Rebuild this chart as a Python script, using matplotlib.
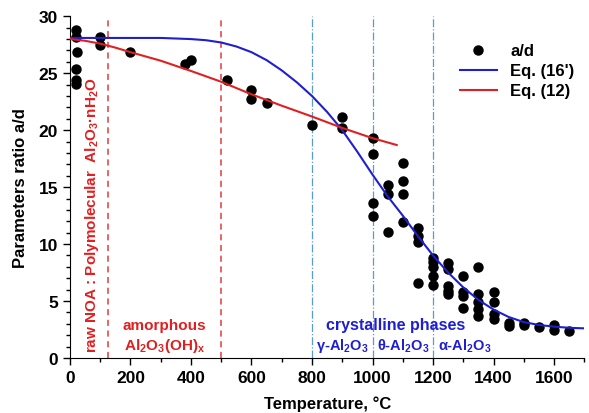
import numpy as np
import matplotlib
matplotlib.use("Agg")
import matplotlib.pyplot as plt

plt.rcParams['font.family'] = ['Liberation Sans', 'DejaVu Sans']
plt.rcParams['font.weight'] = 'bold'
plt.rcParams['mathtext.default'] = 'regular'

# experimental points a/d
temp_pts = [20, 20, 24, 19, 19, 20, 100, 100, 200, 380, 401, 520, 600, 600, 650,
            800, 900, 900, 1000, 1000, 1000, 1000, 1050, 1050, 1050, 1100,
            1100, 1100, 1100, 1150, 1150, 1150, 1150,
            1200, 1200, 1200, 1200, 1200, 1250, 1250, 1250, 1250, 1250,
            1300, 1300, 1300, 1300, 1350, 1350, 1350, 1350, 1350,
            1400, 1400, 1400, 1400, 1450, 1450, 1500, 1500, 1550, 1600, 1600, 1650]
ratio_pts = [28.8, 28.2, 26.9, 25.4, 24.4, 24.1, 28.2, 27.5, 26.9, 25.8, 26.2, 24.4, 23.5, 22.7, 22.4,
             20.5, 21.2, 20.2, 19.3, 17.9, 13.6, 12.5, 15.2, 14.4, 11.1, 17.1,
             15.5, 14.4, 11.9, 11.4, 10.7, 10.2, 6.6,
             8.8, 8.4, 8.0, 7.2, 6.4, 8.3, 7.8, 6.3, 5.9, 5.6,
             7.2, 5.8, 5.4, 4.4, 8.0, 5.6, 4.9, 4.3, 3.7,
             5.8, 4.9, 3.9, 3.4, 3.1, 2.8, 3.1, 2.9, 2.7, 2.9, 2.5, 2.4]

# Eq. (16') curve
temp_16 = [0, 200, 300, 350, 400, 450, 500, 550, 600, 650, 700, 750, 800, 850, 900, 950, 1000,
           1050, 1100, 1150, 1200, 1250, 1300, 1350, 1400, 1450, 1500, 1550, 1600, 1650, 1700]
ratio_16 = [28.1, 28.1, 28.1, 28.05, 28.0, 27.9, 27.7, 27.35, 26.85, 26.15, 25.25, 24.2, 23.0,
            21.6, 20.0, 18.1, 16.1, 14.2, 12.5, 10.7, 9.0, 7.5, 6.2, 5.1, 4.25, 3.6, 3.15,
            2.9, 2.75, 2.65, 2.6]

# Eq. (12) curve
temp_12 = [0, 50, 100, 150, 200, 300, 400, 500, 600, 700, 800, 900, 1000, 1080]
ratio_12 = [28.0, 27.85, 27.6, 27.25, 26.85, 26.1, 25.2, 24.25, 23.15, 22.15, 21.2, 20.2, 19.3, 18.7]

red_lines = [125, 500]
blue_lines = [800, 1000, 1200]
phases = ['γ-Al$_2$O$_3$', 'θ-Al$_2$O$_3$', 'α-Al$_2$O$_3$']
phase_x = [902, 1102, 1304]

fig = plt.figure(figsize=(5.89, 4.14), dpi=100)
ax = fig.add_axes([0.1188, 0.1329, 0.8732, 0.8253])

for t in red_lines:
    ax.axvline(t, color='#e03c3c', ls=(0, (4, 3)), lw=1.1)
for t in blue_lines:
    ax.axvline(t, color='#5b9bd5', ls='-.', lw=0.9)

ax.plot(temp_pts, ratio_pts, 'o', color='black', ms=6.5, label='a/d', zorder=3)
ax.plot(temp_16, ratio_16, '-', color='#1f1fd0', lw=1.5, label="Eq. (16')", zorder=4)
ax.plot(temp_12, ratio_12, '-', color='#e02020', lw=1.5, label='Eq. (12)', zorder=4)

ax.text(72, 0.5, 'raw NOA : Polymolecular  Al$_2$O$_3$·nH$_2$O', rotation=90, color='#e02020',
        fontsize=11, fontweight='bold', ha='center', va='bottom')
ax.text(312, 2.9, 'amorphous', color='#e02020', fontsize=11, fontweight='bold', ha='center', va='center')
ax.text(312, 1.15, 'Al$_2$O$_3$(OH)$_x$', color='#e02020', fontsize=11, fontweight='bold',
        ha='center', va='center')
ax.text(1075, 2.9, 'crystalline phases', color='#1f1fd0', fontsize=11.5, fontweight='bold',
        ha='center', va='center')
for x, s in zip(phase_x, phases):
    ax.text(x, 1.15, s, color='#1f1fd0', fontsize=10.5, fontweight='bold', ha='center', va='center')

ax.set_xlim(0, 1700)
ax.set_ylim(0, 30)
ax.set_xticks(range(0, 1700, 200))
ax.set_xticks(range(0, 1701, 100), minor=True)
ax.set_yticks(range(0, 31, 5))
ax.set_yticks(range(0, 31, 1), minor=True)
ax.tick_params(which='major', direction='out', length=5, width=1, labelsize=12.5)
ax.tick_params(which='minor', direction='out', length=3, width=1)
for lab in ax.get_xticklabels() + ax.get_yticklabels():
    lab.set_fontweight('bold')
ax.spines['top'].set_visible(False)
ax.spines['right'].set_visible(False)
ax.set_xlabel('Temperature, °C', fontsize=12, fontweight='bold', labelpad=8)
ax.set_ylabel('Parameters ratio a/d', fontsize=12, fontweight='bold', labelpad=8)

leg = ax.legend(loc='upper right', bbox_to_anchor=(1.0, 0.95), frameon=False, fontsize=12,
                handlelength=2.2, borderaxespad=0.2, labelspacing=0.3)
for t in leg.get_texts():
    t.set_fontweight('bold')

fig.savefig('out.png', dpi=100)
